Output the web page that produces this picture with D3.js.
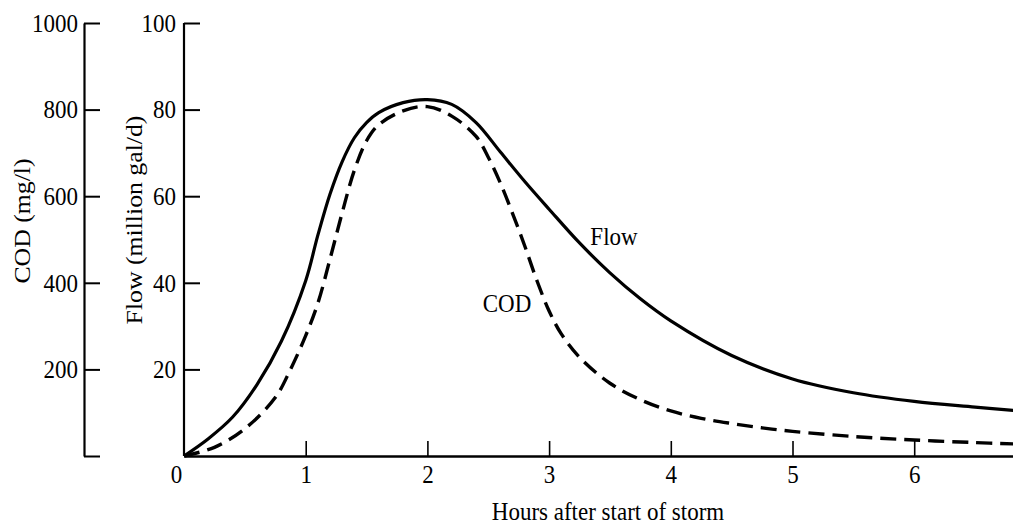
<!DOCTYPE html>
<html>
<head>
<meta charset="utf-8">
<script src="https://cdn.jsdelivr.net/npm/d3@7"></script>
<style>
  html, body { margin: 0; padding: 0; background: #fff; }
  svg { display: block; }
  text { font-family: "Liberation Serif", "Times New Roman", serif; fill: #000; }
</style>
</head>
<body>
<script>
// Storm runoff: flow hydrograph and COD pollutograph
const flowHours = [0, 0.2, 0.4, 0.6, 0.8, 1.0, 1.1, 1.2, 1.3, 1.4, 1.5, 1.6, 1.8, 2.0, 2.2, 2.4, 2.6, 2.8, 3.0, 3.25, 3.5, 3.75, 4.0, 4.5, 5.0, 5.5, 6.0, 6.5, 6.82];
const flowValues = [0, 4, 9, 16.5, 26.5, 40.5, 51, 60.5, 68, 73.5, 77, 79.3, 81.6, 82.3, 81.2, 77, 70.2, 63.4, 57, 49.2, 42.3, 36.3, 31.2, 23.2, 17.8, 14.6, 12.6, 11.3, 10.5];

const codHours = [0, 0.25, 0.5, 0.75, 0.875, 1.0, 1.1, 1.2, 1.3, 1.4, 1.5, 1.6, 1.8, 2.0, 2.2, 2.4, 2.5, 2.6, 2.7, 2.8, 2.9, 3.0, 3.1, 3.25, 3.5, 3.75, 4.0, 4.25, 4.5, 4.75, 5.0, 5.5, 6.0, 6.5, 6.82];
const codValues = [0, 20, 63, 135, 200, 278, 353, 455, 562, 660, 728, 765, 797, 807, 785, 738, 690, 630, 560, 485, 405, 335, 282, 228, 168, 130, 104, 87, 75, 65, 57, 45, 37, 31, 28];

const hourTicks = [0, 1, 2, 3, 4, 5, 6];
const flowTicks = [20, 40, 60, 80, 100];
const codTicks = [0, 200, 400, 600, 800, 1000];

const W = 1013, H = 527;
const FONT = 23, SY = 1.12; // serif type, slightly tall

const svg = d3.select("body").append("svg")
  .attr("width", W).attr("height", H);

const x = d3.scaleLinear().domain([0, 6.82]).range([184, 1014]);
const yFlow = d3.scaleLinear().domain([0, 100]).range([456, 23]);
const yCod = d3.scaleLinear().domain([0, 1000]).range([456, 23]);

const codAxisX = 84, flowAxisX = 184;

function styleAxis(g) {
  g.select(".domain").attr("stroke", "#000").attr("stroke-width", 2.2);
  g.selectAll(".tick line").attr("stroke", "#000").attr("stroke-width", 2);
  g.selectAll(".tick text")
    .attr("font-size", FONT)
    .attr("font-family", "Liberation Serif, Times New Roman, serif")
    .attr("fill", "#000");
}

// COD axis (far left)
const codAxis = svg.append("g")
  .attr("transform", `translate(${codAxisX},0)`)
  .call(d3.axisLeft(yCod).tickValues(codTicks)
    .tickSizeInner(-16).tickSizeOuter(0).tickPadding(6)
    .tickFormat(d => d === 0 ? "" : d));
styleAxis(codAxis);
codAxis.selectAll(".tick text").attr("transform", `scale(1,${SY})`);

// Flow axis
const flowAxis = svg.append("g")
  .attr("transform", `translate(${flowAxisX},0)`)
  .call(d3.axisLeft(yFlow).tickValues(flowTicks)
    .tickSizeInner(-16).tickSizeOuter(0).tickPadding(8));
styleAxis(flowAxis);
flowAxis.select(".domain").attr("d", `M0,${yFlow(100)}V${yFlow(0)}`);
flowAxis.selectAll(".tick text").attr("transform", `scale(1,${SY})`);

// Time axis
const xAxis = svg.append("g")
  .attr("transform", `translate(0,${yFlow(0)})`)
  .call(d3.axisBottom(x).tickValues(hourTicks)
    .tickSizeInner(-15).tickSizeOuter(0).tickPadding(9)
    .tickFormat(d3.format("d")));
styleAxis(xAxis);
xAxis.select(".domain").attr("stroke-width", 2.6);
xAxis.selectAll(".tick line").attr("stroke-width", 1.6);
xAxis.selectAll(".tick text")
  .attr("transform", `scale(1,${SY})`)
  .attr("y", 9 / SY)
  .attr("dx", d => d === 0 ? -8 : 0);
xAxis.selectAll(".tick").filter(d => d === 0).select("line").remove();

// Curves
const flowLine = d3.line()
  .x((d, i) => x(flowHours[i]))
  .y(d => yFlow(d))
  .curve(d3.curveCatmullRom.alpha(0.5));

const codLine = d3.line()
  .x((d, i) => x(codHours[i]))
  .y(d => yCod(d))
  .curve(d3.curveCatmullRom.alpha(0.5));

svg.append("path")
  .datum(flowValues)
  .attr("d", flowLine)
  .attr("fill", "none")
  .attr("stroke", "#000")
  .attr("stroke-width", 3.2)
  .attr("stroke-linejoin", "round");

svg.append("path")
  .datum(codValues)
  .attr("d", codLine)
  .attr("fill", "none")
  .attr("stroke", "#000")
  .attr("stroke-width", 3.4)
  .attr("stroke-dasharray", "16,8");

// Labels
function label(txt, tx, ty, rot, anchor) {
  svg.append("text")
    .attr("transform", `translate(${tx},${ty}) scale(1,${SY})` + (rot ? ` rotate(${rot})` : ""))
    .attr("text-anchor", anchor || "middle")
    .attr("font-size", FONT)
    .text(txt);
}

label("Hours after start of storm", 608, 520);
label("COD (mg/l)", 30, 221, -90);
label("Flow (million gal/d)", 142, 220, -90);
label("Flow", 614, 245);
label("COD", 507, 312);
</script>
</body>
</html>
